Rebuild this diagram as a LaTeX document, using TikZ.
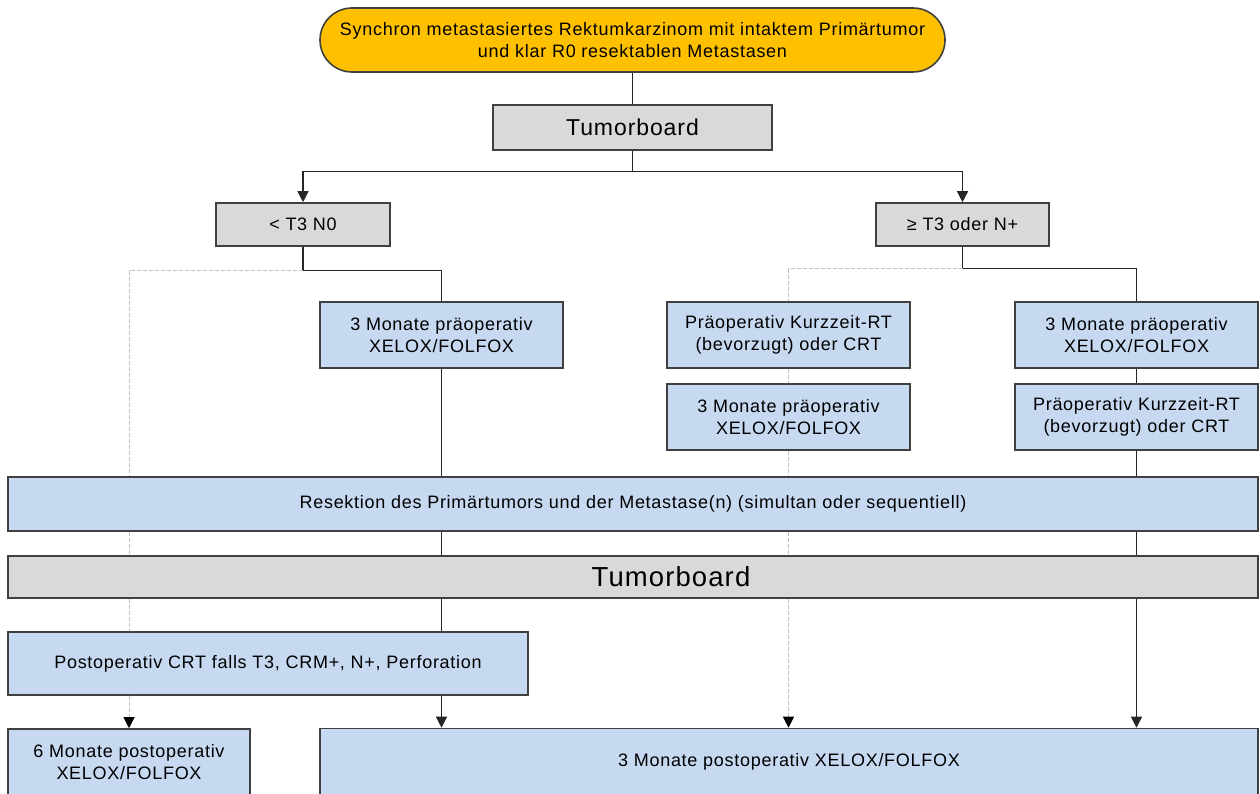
\documentclass[tikz,border=0pt]{standalone}
\usepackage{fontspec}
\setmainfont{Liberation Sans}[LetterSpace=4]
\usetikzlibrary{arrows.meta}
\definecolor{boxblue}{HTML}{C6D9F1}
\definecolor{boxgray}{HTML}{D9D9D9}
\definecolor{startorange}{HTML}{FFC000}
\definecolor{edgedark}{HTML}{404040}
\definecolor{linedark}{HTML}{262626}
\definecolor{dashgray}{HTML}{C0C0C0}
\newcommand{\txtsmall}{\fontsize{18}{22}\selectfont}
\tikzset{
  base/.style={draw=edgedark, line width=1.6pt, align=center, inner sep=0pt, text=black},
  bluebox/.style={base, fill=boxblue, font=\txtsmall},
  graybox/.style={base, fill=boxgray},
  startbox/.style={base, fill=startorange, rounded corners=32pt, font=\txtsmall},
  conn/.style={draw=linedark, line width=1.3pt},
  optline/.style={draw=dashgray, line width=1pt, dash pattern=on 4pt off 2pt},
  tip/.style={-{Triangle[width=11pt,length=11pt]}},
  darktip/.style={-{Triangle[width=11pt,length=11pt,color=black]}},
}
\begin{document}
\begin{tikzpicture}[x=1pt, y=-1pt]
\useasboundingbox (0,0) rectangle (1260,794);

% boxes
\node[startbox, minimum width=625pt, minimum height=64pt] (start) at (632.5,40)
  {Synchron metastasiertes Rektumkarzinom mit intaktem Primärtumor\\und klar R0 resektablen Metastasen};
\node[graybox, minimum width=279pt, minimum height=45pt, font=\fontsize{23}{26}\selectfont] (tb1) at (632.5,127.5) {Tumorboard};
\node[graybox, minimum width=174pt, minimum height=43pt, font=\txtsmall] (lt) at (303,224.5) {< T3 N0};
\node[graybox, minimum width=173pt, minimum height=43pt, font=\txtsmall] (ge) at (962.5,224.5) {≥ T3 oder N+};

\node[bluebox, minimum width=243pt, minimum height=66pt] (a1) at (441.5,335) {3 Monate präoperativ\\XELOX/FOLFOX};
\node[bluebox, minimum width=243pt, minimum height=66pt] (b1) at (788.5,335) {Präoperativ Kurzzeit-RT\\(bevorzugt) oder CRT};
\node[bluebox, minimum width=243pt, minimum height=66pt] (b2) at (788.5,417) {3 Monate präoperativ\\XELOX/FOLFOX};
\node[bluebox, minimum width=243pt, minimum height=66pt] (c1) at (1136.5,335) {3 Monate präoperativ\\XELOX/FOLFOX};
\node[bluebox, minimum width=243pt, minimum height=66pt] (c2) at (1136.5,417) {Präoperativ Kurzzeit-RT\\(bevorzugt) oder CRT};

\node[bluebox, minimum width=1250pt, minimum height=54pt] (res) at (633,504)
  {Resektion des Primärtumors und der Metastase(n) (simultan oder sequentiell)};
\node[graybox, minimum width=1250pt, minimum height=42pt, font=\fontsize{27.5}{30}\selectfont] (tb2) at (633,577)
  {\hspace*{76pt}Tumorboard};

\node[bluebox, minimum width=520pt, minimum height=63pt] (post) at (268,663.5)
  {Postoperativ CRT falls T3, CRM+, N+, Perforation};
\node[bluebox, minimum width=242pt, minimum height=66pt] (six) at (129,762)
  {6 Monate postoperativ\\XELOX/FOLFOX};
\node[bluebox, minimum width=938pt, minimum height=66pt] (three) at (789,761.5)
  {3 Monate postoperativ XELOX/FOLFOX};

% top connectors
\draw[conn] (start.south) -- (tb1.north);
\draw[conn] (tb1.south) -- ++(0,21) coordinate (tbj);
\draw[conn, tip] (tbj) -| (lt.north);
\draw[conn, tip] (tbj) -| (ge.north);

% branch < T3 N0
\draw[conn] (lt.south) -- ++(0,24) coordinate (ltj);
\draw[conn] (ltj) -| (a1.north);
\draw[optline] (ltj) -| (res.north -| six.north);
\draw[conn] (a1.south) -- (a1.south |- res.north);

% branch >= T3 oder N+
\draw[conn] (ge.south) -- ++(0,22) coordinate (gej);
\draw[conn] (gej) -| (c1.north);
\draw[optline] (gej) -| (b1.north);
\draw[optline] (b1.south) -- (b2.north);
\draw[optline] (b2.south) -- (b2.south |- res.north);
\draw[conn] (c1.south) -- (c2.north);
\draw[conn] (c2.south) -- (c2.south |- res.north);

% resection to tumor board
\draw[optline] (res.south -| six.north) -- (tb2.north -| six.north);
\draw[conn] (res.south -| a1.south) -- (tb2.north -| a1.south);
\draw[optline] (res.south -| b1.south) -- (tb2.north -| b1.south);
\draw[conn] (res.south -| c1.south) -- (tb2.north -| c1.south);

% tumor board to postoperative steps
\draw[optline] (tb2.south -| six.north) -- (post.north -| six.north);
\draw[conn] (tb2.south -| a1.south) -- (post.north -| a1.south);
\draw[optline, darktip] (tb2.south -| b1.south) -- (three.north -| b1.south);
\draw[conn, tip] (tb2.south -| c1.south) -- (three.north -| c1.south);
\draw[optline, darktip] (post.south -| six.north) -- (six.north);
\draw[conn, tip] (post.south -| a1.south) -- (three.north -| a1.south);
\end{tikzpicture}
\end{document}
